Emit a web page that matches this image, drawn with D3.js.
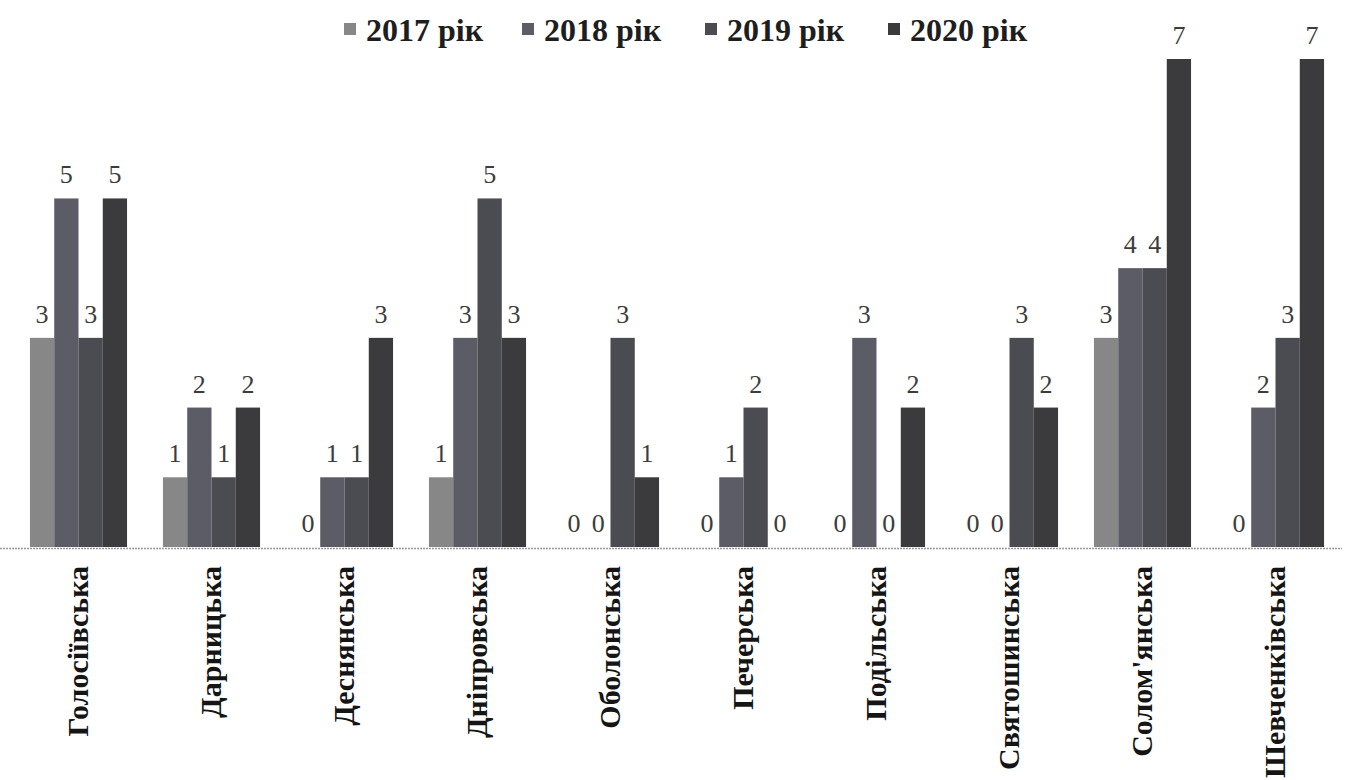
<!DOCTYPE html>
<html>
<head>
<meta charset="utf-8">
<script src="https://cdn.jsdelivr.net/npm/d3@7/dist/d3.min.js"></script>
<style>
  body { margin: 0; background: #fff; }
  svg { display: block; }
</style>
</head>
<body>
<div id="chart"></div>
<script>
// districts and yearly values
const districts = ["Голосіївська", "Дарницька", "Деснянська", "Дніпровська", "Оболонська",
                   "Печерська", "Подільська", "Святошинська", "Солом'янська", "Шевченківська"];
const years = ["2017 рік", "2018 рік", "2019 рік", "2020 рік"];
const v2017 = [3, 1, 0, 1, 0, 0, 0, 0, 3, 0];
const v2018 = [5, 2, 1, 3, 0, 1, 3, 0, 4, 2];
const v2019 = [3, 1, 1, 5, 3, 2, 0, 3, 4, 3];
const v2020 = [5, 2, 3, 3, 1, 0, 2, 2, 7, 7];
const colors = ["#878787", "#5c5c66", "#4b4b52", "#3b3b3e"];

const series = [v2017, v2018, v2019, v2020];
const data = districts.map((d, i) => ({
    district: d,
    values: years.map((y, j) => ({ year: y, value: series[j][i] }))
}));

const width = 1351, height = 780;

const svg = d3.select("#chart")
    .append("svg")
    .attr("width", width)
    .attr("height", height);

const x0 = d3.scaleBand()
    .domain(districts)
    .range([12, 1342])
    .paddingInner(0.27)
    .paddingOuter(0.135);

const x1 = d3.scaleBand()
    .domain(years)
    .range([0, x0.bandwidth()]);

const y = d3.scaleLinear()
    .domain([0, 7])
    .range([547, 59]);

const color = d3.scaleOrdinal().domain(years).range(colors);

// baseline
svg.append("line")
    .attr("x1", 0).attr("x2", 1342)
    .attr("y1", y(0) + 1.5).attr("y2", y(0) + 1.5)
    .attr("stroke", "#999")
    .attr("stroke-width", 1.5)
    .attr("stroke-dasharray", "2,1");

const groups = svg.selectAll("g.district")
    .data(data)
    .join("g")
    .attr("class", "district")
    .attr("transform", d => `translate(${x0(d.district)},0)`);

groups.selectAll("rect")
    .data(d => d.values)
    .join("rect")
    .attr("x", d => x1(d.year))
    .attr("y", d => y(d.value))
    .attr("width", x1.bandwidth())
    .attr("height", d => y(0) - y(d.value))
    .attr("fill", d => color(d.year));

groups.selectAll("text.val")
    .data(d => d.values)
    .join("text")
    .attr("class", "val")
    .attr("x", d => x1(d.year) + x1.bandwidth() / 2)
    .attr("y", d => y(d.value) - 15)
    .attr("text-anchor", "middle")
    .style("font-family", "'Liberation Serif', 'DejaVu Serif', serif")
    .style("font-size", "26px")
    .style("fill", "#3c3c3c")
    .text(d => d.value);

// category labels, rotated
svg.selectAll("text.cat")
    .data(districts)
    .join("text")
    .attr("class", "cat")
    .attr("transform", d => `translate(${x0(d) + x0.bandwidth() / 2 + 9},566) rotate(-90)`)
    .attr("text-anchor", "end")
    .style("font-family", "'Liberation Serif', 'DejaVu Serif', serif")
    .style("font-weight", "bold")
    .style("font-size", "30px")
    .style("fill", "#151515")
    .text(d => d);

// legend
const legendX = [344, 522, 705, 888];
const legend = svg.selectAll("g.legend")
    .data(years)
    .join("g")
    .attr("class", "legend")
    .attr("transform", (d, i) => `translate(${legendX[i]},30)`);

legend.append("rect")
    .attr("x", 0).attr("y", -7)
    .attr("width", 12).attr("height", 12)
    .attr("fill", d => color(d));

legend.append("text")
    .attr("x", 22)
    .attr("y", 11)
    .style("font-family", "'Liberation Serif', 'DejaVu Serif', serif")
    .style("font-weight", "bold")
    .style("font-size", "32px")
    .style("fill", "#1e1e1e")
    .text(d => d);
</script>
</body>
</html>
